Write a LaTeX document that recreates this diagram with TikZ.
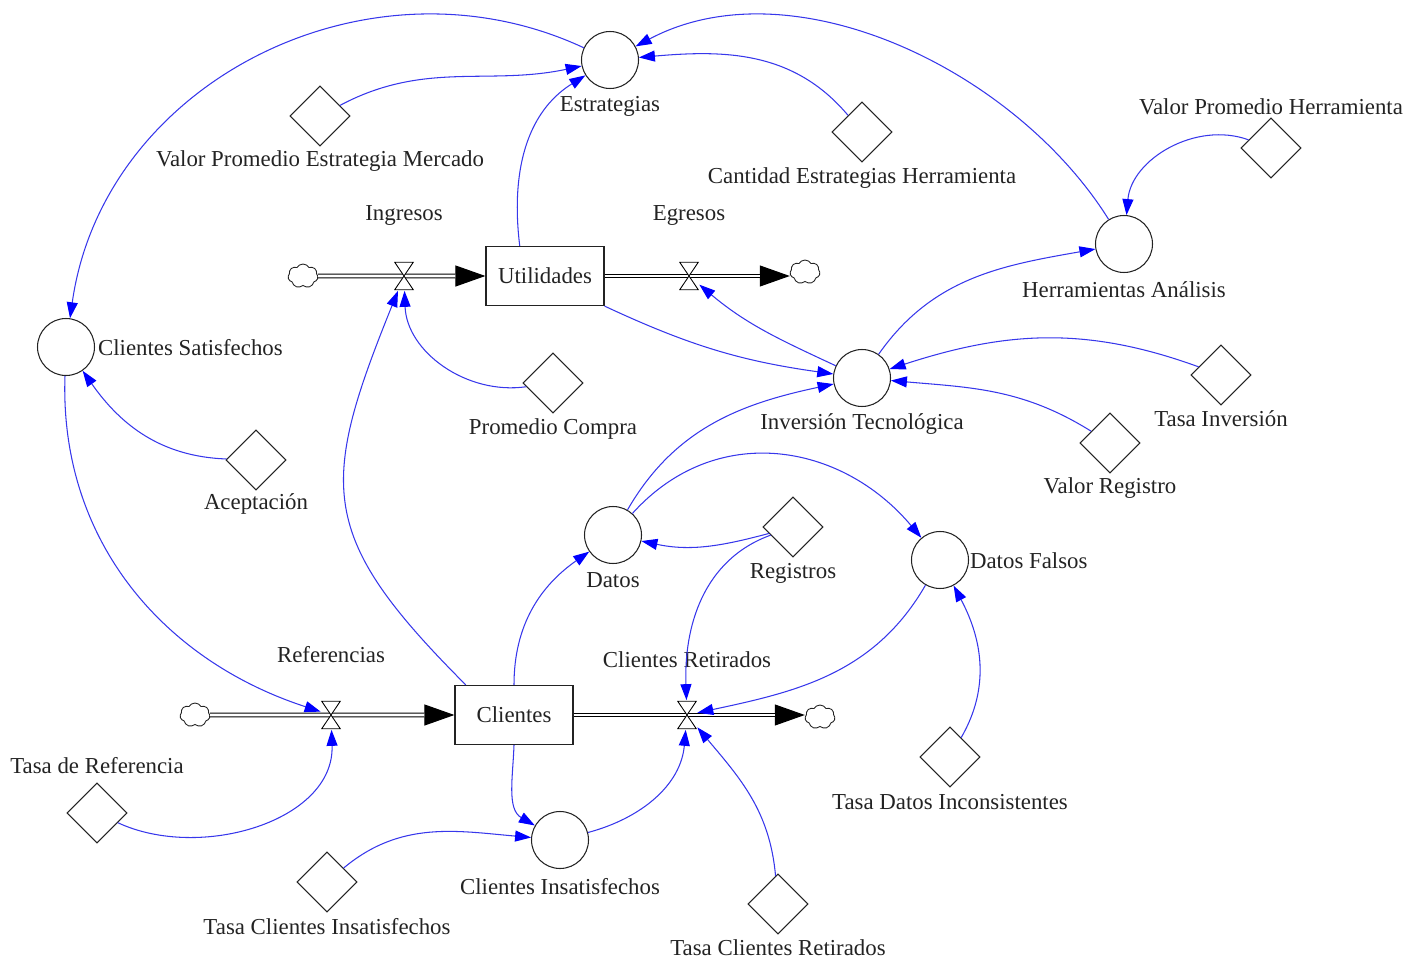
\documentclass[tikz,border=0pt]{standalone}
\usepackage{fontspec}
\setmainfont{Liberation Serif}
\usetikzlibrary{arrows.meta,shapes.geometric,shapes.symbols}
\definecolor{linkblue}{RGB}{55,55,235}
\definecolor{tipblue}{RGB}{0,0,255}
\definecolor{inkgray}{RGB}{35,35,35}

\begin{document}
\begin{tikzpicture}[
  x=0.02cm, y=-0.02cm,
  font=\fontsize{13}{15}\selectfont,
  stock/.style={draw=inkgray, line width=0.7pt, fill=white, minimum width=2.36cm, minimum height=1.18cm, inner sep=0pt, text=inkgray},
  aux/.style={circle, draw=inkgray, line width=0.6pt, minimum size=1.14cm, inner sep=0pt},
  const/.style={diamond, draw=inkgray, line width=0.6pt, minimum size=1.2cm, inner sep=0pt},
  lbl/.style={text=inkgray, inner sep=1pt},
  cloudy/.style={cloud, cloud puffs=7, cloud puff arc=120, aspect=1.2, draw=inkgray, line width=0.5pt, minimum width=0.6cm, minimum height=0.48cm, inner sep=0pt},
  valvula/.style={minimum width=0.4cm, minimum height=0.58cm, inner sep=0pt,
    path picture={\draw[draw=black, line width=0.5pt, fill=white]
      ([xshift=0.4pt,yshift=-0.4pt]path picture bounding box.north west) -- ([xshift=-0.4pt,yshift=-0.4pt]path picture bounding box.north east)
      -- ([xshift=0.4pt,yshift=0.4pt]path picture bounding box.south west) -- ([xshift=-0.4pt,yshift=0.4pt]path picture bounding box.south east) -- cycle;}},
  pipe/.style={draw=black, line width=0.6pt, double=white, double distance=1.6pt},
  flowtip/.style={draw=black, line width=0.6pt, -{Triangle[length=0.6cm, width=0.42cm]}},
  link/.style={draw=linkblue, line width=0.6pt, -{Triangle[length=0.32cm, width=0.22cm, color=tipblue]}},
]
\useasboundingbox (0,0) rectangle (1418,963);

% ---- stocks
\node[stock] (util) at (545,276) {Utilidades};
\node[stock] (cli)  at (514,715) {Clientes};

% ---- auxiliaries
\node[aux] (estr)   at (610,60)  {};
\node[aux] (cliSat) at (66,347)  {};
\node[aux] (herr)   at (1124,244) {};
\node[aux] (inv)    at (862,378) {};
\node[aux] (datos)  at (613,535) {};
\node[aux] (datFal) at (940,560) {};
\node[aux] (cliIns) at (560,840) {};

% ---- constants
\node[const] (vpem) at (320,116)  {};
\node[const] (ceh)  at (862,132)  {};
\node[const] (vph)  at (1271,148) {};
\node[const] (pc)   at (553,383)  {};
\node[const] (acep) at (256,460)  {};
\node[const] (tinv) at (1221,375) {};
\node[const] (vreg) at (1110,443) {};
\node[const] (reg)  at (793,527)  {};
\node[const] (tdi)  at (950,757)  {};
\node[const] (tref) at (97,813)   {};
\node[const] (tci)  at (327,882)  {};
\node[const] (tcr)  at (778,904)  {};

% ---- clouds
\node[cloudy] (nubIng) at (303,276) {};
\node[cloudy] (nubEgr) at (805,272) {};
\node[cloudy] (nubRef) at (195,715) {};
\node[cloudy] (nubRet) at (820,717) {};

% ---- flows (tip first, double pipe on top)
\draw[flowtip] (nubIng.east) -- (util.west);
\draw[pipe, shorten >=0.6cm] (nubIng.east) -- (util.west);
\draw[flowtip] (util.east) -- (nubEgr.west |- util.east);
\draw[pipe, shorten >=0.6cm] (util.east) -- (nubEgr.west |- util.east);
\draw[flowtip] (nubRef.east) -- (cli.west);
\draw[pipe, shorten >=0.6cm] (nubRef.east) -- (cli.west);
\draw[flowtip] (cli.east) -- (nubRet.west |- cli.east);
\draw[pipe, shorten >=0.6cm] (cli.east) -- (nubRet.west |- cli.east);

% ---- valves
\node[valvula] (vIng) at (404,276) {};
\node[valvula] (vEgr) at (689,276) {};
\node[valvula] (vRef) at (331,715) {};
\node[valvula] (vRet) at (687,715) {};

% ---- labels
\node[lbl] (tEstr)   at (610,106)  {Estrategias};
\node[lbl] (tVpem)   at (320,161)  {Valor Promedio Estrategia Mercado};
\node[lbl] (tCeh)    at (862,178)  {Cantidad Estrategias Herramienta};
\node[lbl] (tVph)    at (1271,107) {Valor Promedio Herramienta};
\node[lbl] (tIng)    at (404,215)  {Ingresos};
\node[lbl] (tEgr)    at (689,215)  {Egresos};
\node[lbl] (tHerr)   at (1124,290) {Herramientas Análisis};
\node[lbl, anchor=west] (tCliSat) at (96,348) {Clientes Satisfechos};
\node[lbl] (tPc)     at (553,429)  {Promedio Compra};
\node[lbl] (tInv)    at (862,424)  {Inversión Tecnológica};
\node[lbl] (tTinv)   at (1221,419) {Tasa Inversión};
\node[lbl] (tAcep)   at (256,504)  {Aceptación};
\node[lbl] (tVreg)   at (1110,488) {Valor Registro};
\node[lbl] (tDatos)  at (613,580)  {Datos};
\node[lbl] (tReg)    at (793,573)  {Registros};
\node[lbl, anchor=west] (tDatFal) at (968,561) {Datos Falsos};
\node[lbl] (tRef)    at (331,655)  {Referencias};
\node[lbl] (tRet)    at (687,660)  {Clientes Retirados};
\node[lbl] (tTref)   at (97,766)   {Tasa de Referencia};
\node[lbl] (tTdi)    at (950,802)  {Tasa Datos Inconsistentes};
\node[lbl] (tCliIns) at (560,887)  {Clientes Insatisfechos};
\node[lbl] (tTci)    at (327,927)  {Tasa Clientes Insatisfechos};
\node[lbl] (tTcr)    at (778,948)  {Tasa Clientes Retirados};

% ---- connectors
\draw[link] (estr) to[out=155, in=82, looseness=1.05] (cliSat);
\draw[link] (vpem) to[out=28, in=192] (estr);
\draw[link] (util.130) to[out=97, in=212] (estr);
\draw[link] (ceh) to[out=130, in=5] (estr);
\draw[link] (herr) to[out=122, in=28, looseness=0.9] (estr);
\draw[link] (vph) to[out=160, in=85] (herr);
\draw[link] (inv) to[out=55, in=190] (herr);
\draw[link] (util.south east) to[out=-25, in=172] (inv);
\draw[link] (inv) to[out=155, in=-40] (vEgr);
\draw[link] (tinv) to[out=160, in=18] (inv);
\draw[link] (vreg) to[out=148, in=-5] (inv);
\draw[link] (pc) to[out=188, in=-88] (vIng);
\draw[link] (cli.148) to[out=135, in=-112, looseness=1.35] (vIng);
\draw[link] (cliSat) to[out=-92, in=162] (vRef);
\draw[link] (acep) to[out=178, in=-55] (cliSat);
\draw[link] (tref) to[out=-25, in=-88] (vRef);
\draw[link] (cli.north) to[out=90, in=215] (datos);
\draw[link] (datos) to[out=60, in=192] (inv);
\draw[link] (datos) to[out=48, in=130, looseness=1.1] (datFal);
\draw[link] (reg) to[out=195, in=-12] (datos);
\draw[link] (reg) to[out=200, in=92] (vRet);
\draw[link] (datFal) to[out=-120, in=12] (vRet);
\draw[link] (tdi) to[out=60, in=-62] (datFal);
\draw[link] (cli.south) to[out=-92, in=150] (cliIns);
\draw[link] (tci) to[out=40, in=175] (cliIns);
\draw[link] (cliIns) to[out=15, in=-95] (vRet);
\draw[link] (tcr) to[out=95, in=-50] (vRet);
\end{tikzpicture}
\end{document}
